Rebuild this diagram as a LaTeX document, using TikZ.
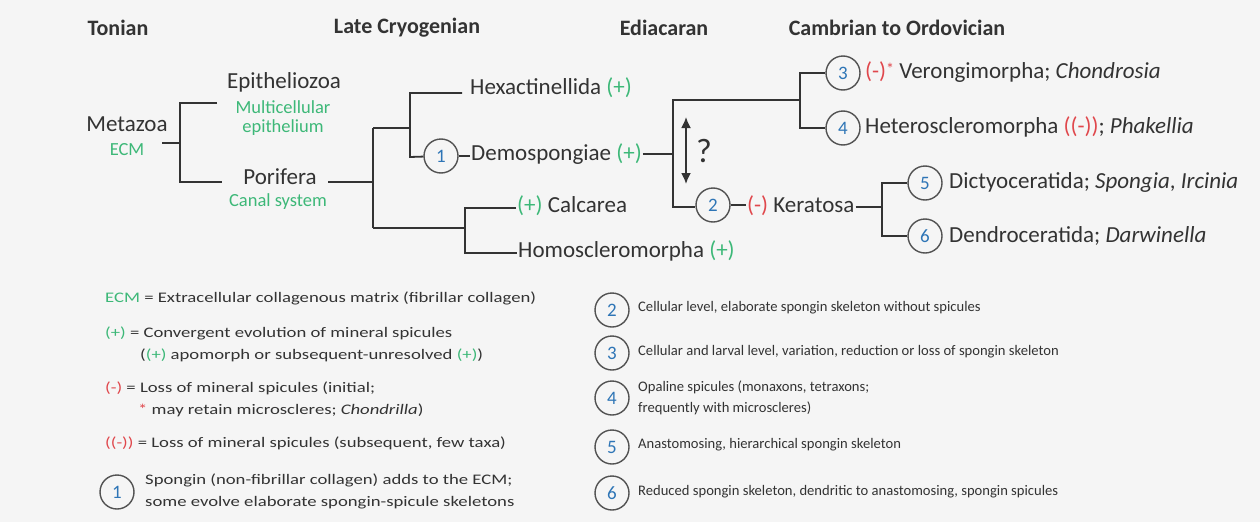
\documentclass[tikz,border=0pt]{standalone}
\usepackage{fontspec}
\setmainfont{Carlito}
\usetikzlibrary{arrows.meta}
\definecolor{grn}{HTML}{3DB878}
\definecolor{rd}{HTML}{E0474C}
\definecolor{nb}{HTML}{2E75B6}
\definecolor{bg}{HTML}{F5F5F5}
\definecolor{ln}{HTML}{333333}
\newcommand{\lw}[1]{\scalebox{1.28}[1]{#1}}
\begin{document}
\begin{tikzpicture}[x=1pt,y=-1pt,
  title/.style={font=\bfseries\fontsize{22}{24}\selectfont, text=ln, inner sep=0pt},
  lab/.style={font=\fontsize{23}{26}\selectfont, text=ln, inner sep=1pt},
  labw/.style={lab, anchor=west},
  sub/.style={font=\fontsize{18.5}{20}\selectfont, text=grn, inner sep=0pt},
  num/.style={circle, draw=ln!85, line width=1.4pt, fill=bg, minimum size=34pt, inner sep=0pt, font=\fontsize{19}{20}\selectfont, text=nb},
  leg/.style={font=\fontsize{14.6}{17}\selectfont, text=ln, anchor=west, inner sep=0pt},
  br/.style={draw=ln, line width=1.8pt}]
\fill[bg] (0,0) rectangle (1260,522);
\useasboundingbox (0,0) rectangle (1260,522);

% titles
\node[title] (t1) at (118,28) {Tonian};
\node[title] (t2) at (407,28) {Late Cryogenian};
\node[title] (t3) at (664,28) {Ediacaran};
\node[title] (t4) at (897,28) {Cambrian to Ordovician};

% Metazoa
\node[lab] (meta) at (127,124) {Metazoa};
\node[sub] (ecm) at (127,150) {ECM};
\node[lab] (epi) at (284,82) {Epitheliozoa};
\node[sub] (multi) at (283,107) {Multicellular};
\node[sub] (epith) at (283,128) {epithelium};
\node[lab] (por) at (280,177) {Porifera};
\node[sub] (canal) at (278,202) {Canal system};

\coordinate (m0) at (162,143);
\coordinate (m1) at (180,143);
\coordinate (m2) at (180,103);
\coordinate (m3) at (180,182);
\coordinate (epiE) at (217,103);
\coordinate (porE) at (222,182);
\draw[br] (m0) -- (m1);
\draw[br] (epiE) -- (m2) -- (m3) -- (porE);

% Porifera split
\coordinate (p0) at (328,182);
\coordinate (p1) at (373,182);
\coordinate (p2) at (373,128);
\coordinate (p3) at (373,228);
\draw[br] (p0) -- (p1);
\draw[br] (p2) -- (p3);

% Hexactinellida / Demospongiae
\coordinate (h0) at (410,128);
\coordinate (h1) at (410,93);
\coordinate (h2) at (410,157);
\coordinate (hexE) at (462,93);
\node[labw] (hex) at (469,88) {Hexactinellida \textcolor{grn}{(+)}};
\node[num] (c1) at (441,156) {1};
\node[labw] (demo) at (470,154) {Demospongiae \textcolor{grn}{(+)}};
\draw[br] (p2) -- (h0);
\draw[br] (hexE) -- (h1) -- (h2) -- (c1);
\draw[br] (c1.east) -- (c1.east -| demo.west);

% Calcarea / Homoscleromorpha
\coordinate (k1) at (465,228);
\coordinate (k2) at (465,208);
\coordinate (k3) at (465,253);
\node[labw] (calc) at (516,206) {\textcolor{grn}{(+)} Calcarea};
\node[labw] (homo) at (517,251) {Homoscleromorpha \textcolor{grn}{(+)}};
\draw[br] (p3) -- (k1);
\draw[br] (calc.west |- k2) -- (k2) -- (k3) -- (homo.west |- k3);

% Demospongiae split
\coordinate (d0) at (673,154);
\coordinate (d1) at (673,100);
\coordinate (d2) at (673,207);
\draw[br] (demo.east |- d0) -- (d0);
\coordinate (e1) at (800,100);
\coordinate (e2) at (800,73);
\coordinate (e3) at (800,128);
\node[num] (c2) at (713,205) {2};
\node[num] (c3) at (843,73) {3};
\node[num] (c4) at (843,128) {4};
\draw[br] (e2 -| c3.west) -- (e2) -- (e3) -- (e3 -| c4.west);
\draw[br] (e1) -- (d1) -- (d2) -- (d2 -| c2.west);

\node[labw] (vero) at (864,72) {\textcolor{rd}{(-)\raisebox{4pt}{\fontsize{16}{16}\selectfont*}} Verongimorpha; \textit{Chondrosia}};
\node[labw] (hete) at (864,127) {Heteroscleromorpha \textcolor{rd}{((-))}; \textit{Phakellia}};

% arrow and ?
\coordinate (a1) at (686,117);
\coordinate (a2) at (686,184);
\draw[draw=ln, line width=1.8pt, {Latex[length=11pt,width=10pt]}-{Latex[length=11pt,width=10pt]}] (a1) -- (a2);
\node[font=\fontsize{34}{36}\selectfont, text=ln, inner sep=0pt] (q) at (704,151) {?};

% Keratosa
\node[labw] (ker) at (746,206) {\textcolor{rd}{(-)} Keratosa};
\draw[br] (c2.east) -- (c2.east -| ker.west);
\coordinate (r0) at (882,207);
\coordinate (r1) at (882,183);
\coordinate (r2) at (882,236);
\node[num] (c5) at (925,183) {5};
\node[num] (c6) at (925,236) {6};
\draw[br] (ker.east |- r0) -- (r0);
\draw[br] (r1 -| c5.west) -- (r1) -- (r2) -- (r2 -| c6.west);
\node[labw] (dict) at (948,182) {Dictyoceratida; \textit{Spongia}, \textit{Ircinia}};
\node[labw] (dend) at (948,236) {Dendroceratida; \textit{Darwinella}};

% legend left
\node[leg] (l1) at (105,298) {\lw{\textcolor{grn}{ECM} = Extracellular collagenous matrix (fibrillar collagen)}};
\node[leg] (l2) at (105,333) {\lw{\textcolor{grn}{(+)} = Convergent evolution of mineral spicules}};
\node[leg] (l2b) at (140,355) {\lw{(\textcolor{grn}{(+)} apomorph or subsequent-unresolved \textcolor{grn}{(+)})}};
\node[leg] (l3) at (105,388) {\lw{\textcolor{rd}{(-)} = Loss of mineral spicules (initial;}};
\node[leg] (l3b) at (138,410) {\lw{\textcolor{rd}{*} may retain microscleres; \textit{Chondrilla})}};
\node[leg] (l4) at (105,443) {\lw{\textcolor{rd}{((-))} = Loss of mineral spicules (subsequent, few taxa)}};
\node[num] (lc1) at (117,492) {1};
\node[leg] (l5) at (145,480) {\lw{Spongin (non-fibrillar collagen) adds to the ECM;}};
\node[leg] (l5b) at (145,503) {\lw{some evolve elaborate spongin-spicule skeletons}};

% legend right
\node[num] (lc2) at (612,310) {2};
\node[num] (lc3) at (612,353) {3};
\node[num] (lc4) at (612,398) {4};
\node[num] (lc5) at (612,447) {5};
\node[num] (lc6) at (612,493) {6};
\node[leg] (r2t) at (638,308) {Cellular level, elaborate spongin skeleton without spicules};
\node[leg] (r3t) at (638,352) {Cellular and larval level, variation, reduction or loss of spongin skeleton};
\node[leg] (r4t) at (638,387) {Opaline spicules (monaxons, tetraxons;};
\node[leg] (r4b) at (638,408) {frequently with microscleres)};
\node[leg] (r5t) at (638,445) {Anastomosing, hierarchical spongin skeleton};
\node[leg] (r6t) at (638,492) {Reduced spongin skeleton, dendritic to anastomosing, spongin spicules};
\end{tikzpicture}
\end{document}
